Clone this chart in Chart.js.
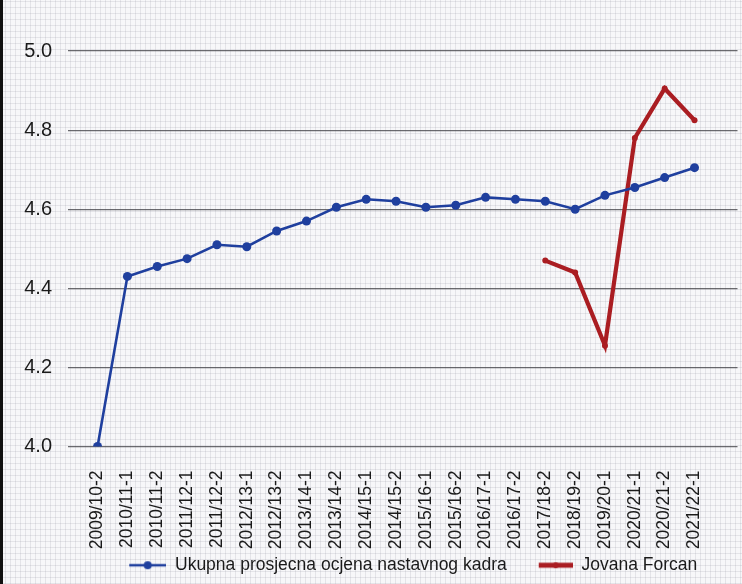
<!DOCTYPE html>
<html>
<head>
<meta charset="utf-8">
<title>Ocjene nastavnog kadra</title>
<script src="https://cdn.jsdelivr.net/npm/chart.js@4.4.1/dist/chart.umd.min.js"></script>
<style>
  html, body { margin: 0; padding: 0; }
  body {
    width: 742px;
    height: 584px;
    overflow: hidden;
    position: relative;
    background-color: #f7f7f9;
    background-image:
      repeating-linear-gradient(0deg, rgba(140,140,155,0.18) 0 1px, transparent 1px 6px),
      repeating-linear-gradient(90deg, rgba(140,140,155,0.18) 0 1px, transparent 1px 5px);
  }
  .edge { position: absolute; left: 0; top: 0; width: 3px; height: 584px; background: #111; }
  #wrap { position: absolute; left: 3px; top: 0; width: 739px; height: 584px; }
</style>
</head>
<body>
<div class="edge"></div>
<div id="wrap"><canvas id="chart"></canvas></div>
<script>
const semesters = [
  "2009/10-2", "2010/11-1", "2010/11-2", "2011/12-1", "2011/12-2", "2012/13-1",
  "2012/13-2", "2013/14-1", "2013/14-2", "2014/15-1", "2014/15-2", "2015/16-1",
  "2015/16-2", "2016/17-1", "2016/17-2", "2017/18-2", "2018/19-2", "2019/20-1",
  "2020/21-1", "2020/21-2", "2021/22-1"
];

// average grade of all teaching staff
const ukupnaOcjena = [
  4.0, 4.43, 4.455, 4.475, 4.51, 4.505, 4.545, 4.57, 4.605, 4.625, 4.62,
  4.605, 4.61, 4.63, 4.625, 4.62, 4.6, 4.635, 4.655, 4.68, 4.705
];

// single teacher, only from 2017/18-2
const jovanaForcan = [
  null, null, null, null, null, null, null, null, null, null, null,
  null, null, null, null, 4.47, 4.44, 4.255, 4.78, 4.905, 4.825
];

const yTicks = [4.0, 4.2, 4.4, 4.6, 4.8, 5.0];

const BLUE = "#1f3f9e";
const RED = "#aa1d22";
const FONT = "'Liberation Sans', Arial, sans-serif";

// legend sample: line with a dot, drawn at the right end of a 58px wide image
function legendMark(color, lineW, dotR, lineLen) {
  const c = document.createElement("canvas");
  c.width = 58;
  c.height = 12;
  const g = c.getContext("2d");
  const x0 = 58 - lineLen;
  g.strokeStyle = color;
  g.lineWidth = lineW;
  g.beginPath();
  g.moveTo(x0, 6);
  g.lineTo(58, 6);
  g.stroke();
  g.fillStyle = color;
  g.beginPath();
  g.arc(x0 + lineLen / 2, 6, dotR, 0, Math.PI * 2);
  g.fill();
  return c;
}

const marks = [legendMark(BLUE, 2.5, 4, 37), legendMark(RED, 5, 3, 34)];

const points = (arr) => arr.map((v, i) => ({ x: i, y: v }));

new Chart(document.getElementById("chart"), {
  type: "line",
  data: {
    datasets: [
      {
        label: "Ukupna prosjecna ocjena nastavnog kadra",
        data: points(ukupnaOcjena),
        borderColor: BLUE,
        backgroundColor: BLUE,
        borderWidth: 2.6,
        pointRadius: 4.5,
        pointBorderWidth: 0,
        tension: 0,
      },
      {
        label: "Jovana Forcan",
        data: points(jovanaForcan),
        borderColor: RED,
        backgroundColor: RED,
        borderWidth: 4.2,
        pointRadius: 3,
        pointBorderWidth: 0,
        tension: 0,
        spanGaps: false,
      },
    ],
  },
  options: {
    responsive: true,
    maintainAspectRatio: false,
    animation: false,
    layout: { padding: { top: 51, left: 20, right: 2, bottom: 0 } },
    plugins: {
      tooltip: { enabled: false },
      legend: {
        position: "bottom",
        fullSize: false,
        labels: {
          usePointStyle: true,
          pointStyleWidth: 58,
          padding: 8,
          color: "#1a1a1a",
          font: { family: FONT, size: 17.5 },
          generateLabels(chart) {
            const items = Chart.defaults.plugins.legend.labels.generateLabels(chart);
            items.forEach((it, i) => { it.pointStyle = marks[i]; });
            return items;
          },
        },
      },
    },
    scales: {
      x: {
        type: "linear",
        min: -0.99,
        max: 21.44,
        grid: { display: false, drawTicks: false },
        border: { display: false },
        afterBuildTicks(axis) {
          axis.ticks = semesters.map((s, i) => ({ value: i }));
        },
        afterFit(axis) {
          axis.height = 102;
        },
        ticks: {
          autoSkip: false,
          minRotation: 90,
          maxRotation: 90,
          padding: 24,
          color: "#1a1a1a",
          font: { family: FONT, size: 17.5 },
          callback: (v) => semesters[v],
        },
      },
      y: {
        min: 4.0,
        max: 5.0,
        afterBuildTicks(axis) {
          axis.ticks = yTicks.map((v) => ({ value: v }));
        },
        afterFit(axis) {
          axis.width = 45;
        },
        grid: { color: "rgba(70,70,75,0.8)", lineWidth: 1.2, drawTicks: false },
        border: { display: false },
        ticks: {
          padding: 16,
          color: "#1a1a1a",
          font: { family: FONT, size: 20 },
          callback: (v) => v.toFixed(1),
        },
      },
    },
  },
});
</script>
</body>
</html>
